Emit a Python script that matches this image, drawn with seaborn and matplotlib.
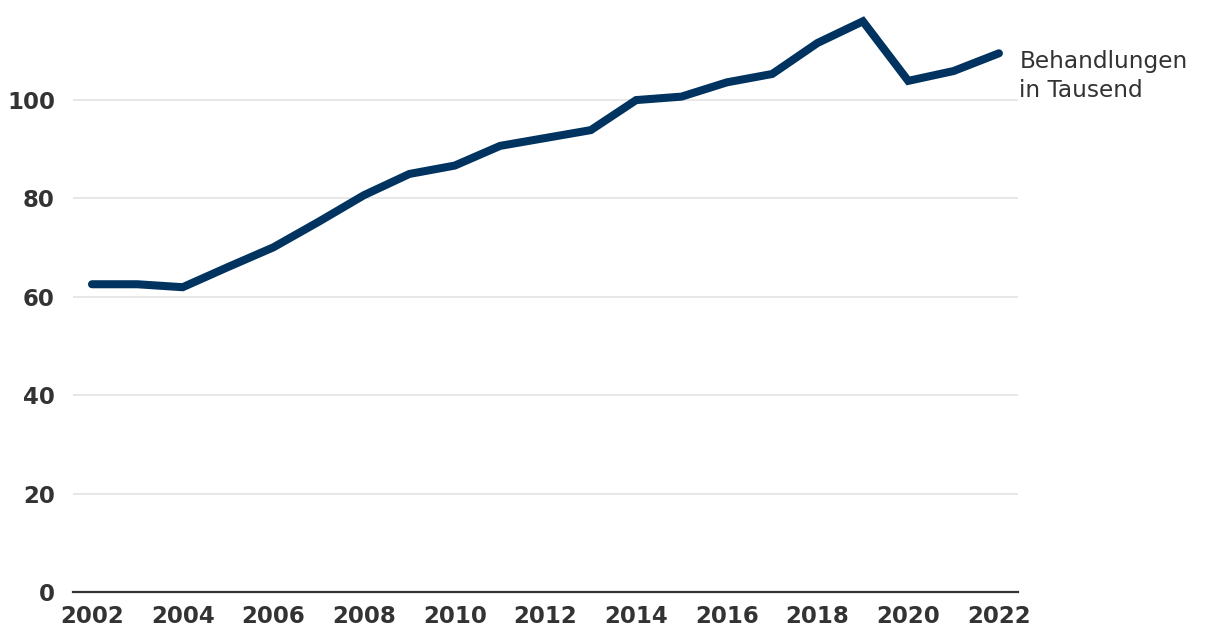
import matplotlib
matplotlib.use("Agg")
import matplotlib.pyplot as plt
import matplotlib.transforms as mtransforms
import pandas as pd
import seaborn as sns

years = list(range(2002, 2023))
treatments = [62.5, 62.5, 61.9, 66.0, 70.0, 75.2, 80.6, 84.9, 86.6, 90.6,
              92.2, 93.8, 99.9, 100.6, 103.5, 105.2, 111.5, 115.9, 103.8,
              105.8, 109.4]
xticks = list(range(2002, 2023, 2))
yticks = [0, 20, 40, 60, 80, 100]
series_label = "Behandlungen\nin Tausend"

df = pd.DataFrame({"year": years, "value": treatments})

sns.set_style("white")
plt.rcParams["font.family"] = ["DejaVu Sans"]

fig = plt.figure(figsize=(12.2, 6.44), dpi=100)
ax = fig.add_axes([0.0598, 0.0807, 0.7746, 0.9023])

sns.lineplot(
    data=df,
    x="year",
    y="value",
    color="#00335f",
    linewidth=5.8,
    ax=ax
)
ax.lines[0].set_solid_capstyle("round")
ax.lines[0].set_solid_joinstyle("miter")

ax.set_xlim(2001.58, 2022.42)
ax.set_ylim(0, 118)
ax.set_xticks(xticks)
ax.set_yticks(yticks)
ax.set_xlabel("")
ax.set_ylabel("")

ax.grid(axis="y", color="#e3e3e3", linewidth=1.2)
ax.grid(axis="x", visible=False)
ax.set_axisbelow(True)

for side in ["top", "right", "left"]:
    ax.spines[side].set_visible(False)
ax.spines["bottom"].set_color("#333333")
ax.spines["bottom"].set_linewidth(1.6)
ax.spines["bottom"].set_zorder(3)

ax.tick_params(axis="both", length=0, labelsize=16.5, labelcolor="#333333")
ax.tick_params(axis="y", pad=13)
ax.tick_params(axis="x", pad=9)
for lbl in ax.get_xticklabels() + ax.get_yticklabels():
    lbl.set_fontweight("bold")

trans = mtransforms.blended_transform_factory(ax.transAxes, ax.transData)
ax.text(
    1.0015, 104.8, series_label,
    transform=trans,
    ha="left", va="center",
    fontsize=16.7, color="#333333",
    linespacing=1.32
)

fig.savefig("out.png", dpi=100)
